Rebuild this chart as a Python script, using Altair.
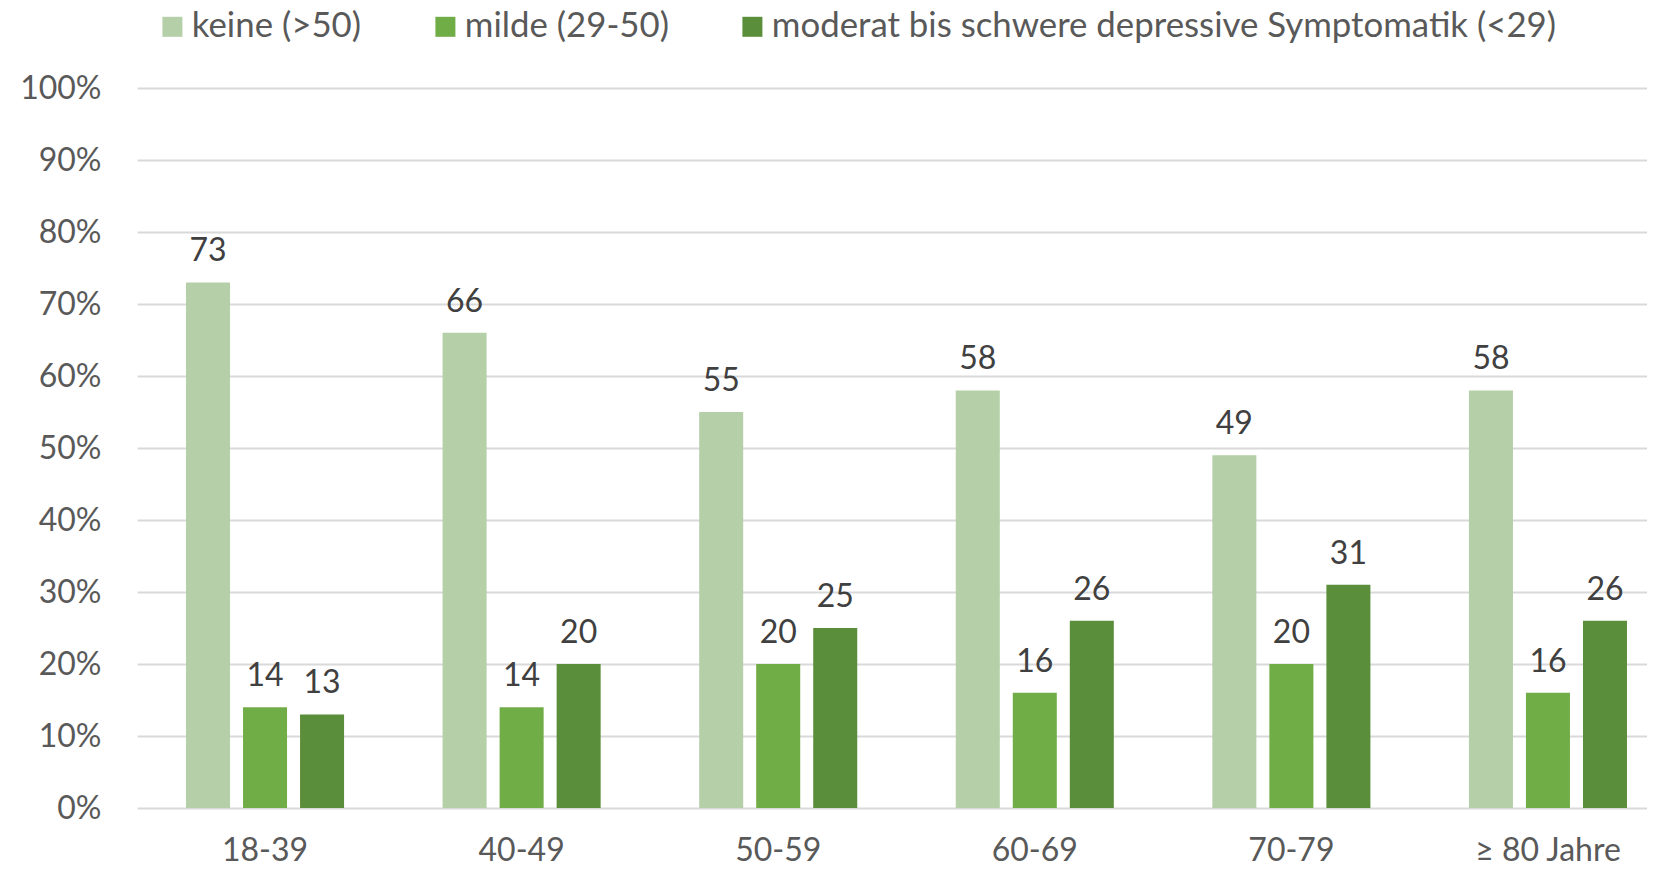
import altair as alt
import pandas as pd

groups = ["18-39", "40-49", "50-59", "60-69", "70-79", "≥ 80 Jahre"]
series = ["keine (>50)", "milde (29-50)", "moderat bis schwere depressive Symptomatik (<29)"]
keine = [73, 66, 55, 58, 49, 58]
milde = [14, 14, 20, 16, 20, 16]
moderat = [13, 20, 25, 26, 31, 26]
colors = ["#b5cfa8", "#70ad47", "#5b8e3a"]

rows = []
for i, g in enumerate(groups):
    for s, vals in zip(series, [keine, milde, moderat]):
        rows.append({"Gruppe": g, "Serie": s, "Wert": vals[i]})
df = pd.DataFrame(rows)

FONT = "Lato"

xscale = alt.Scale(range=[0, 1539], paddingInner=0.384, paddingOuter=0.191)
xoscale = alt.Scale(paddingInner=0.228, paddingOuter=0)

x = alt.X("Gruppe:N", sort=groups, title=None, scale=xscale,
          axis=alt.Axis(labelAngle=0, labelFontSize=32, labelColor="#595959",
                        labelFont=FONT, labelPadding=27, ticks=False, domain=False))
xo = alt.XOffset("Serie:N", sort=series, scale=xoscale)
y = alt.Y("Wert:Q", title=None,
          scale=alt.Scale(domain=[0, 100], nice=False),
          axis=alt.Axis(values=list(range(0, 101, 10)), labelExpr="datum.value + '%'",
                        labelFontSize=32, labelColor="#595959", labelFont=FONT,
                        labelPadding=36, ticks=False, domain=False,
                        gridColor="#d9d9d9", gridWidth=2))
color = alt.Color("Serie:N", sort=series,
                  scale=alt.Scale(domain=series, range=colors),
                  legend=alt.Legend(orient="none", direction="horizontal", title=None,
                                    legendX=18, legendY=-79, columns=3,
                                    symbolType="square", symbolSize=400,
                                    symbolStrokeWidth=0, labelFontSize=34.8,
                                    labelFont=FONT, labelColor="#595959",
                                    labelOffset=2, columnPadding=66, labelLimit=1000))

bars = alt.Chart(df).mark_bar().encode(x=x, xOffset=xo, y=y, color=color)
labels = alt.Chart(df).mark_text(baseline="bottom", dy=-14, fontSize=32, font=FONT,
                                 color="#404040").encode(
    x=alt.X("Gruppe:N", sort=groups, scale=xscale),
    xOffset=alt.XOffset("Serie:N", sort=series, scale=xoscale),
    y="Wert:Q", text="Wert:Q")

chart = (bars + labels).properties(
    width=1510, height=720,
    autosize=alt.AutoSizeParams(type="none"),
    padding={"left": 129, "top": 80, "right": 0, "bottom": 58},
).configure_view(stroke=None)

chart.save("out.html", embed_options={"renderer": "svg", "actions": False})
